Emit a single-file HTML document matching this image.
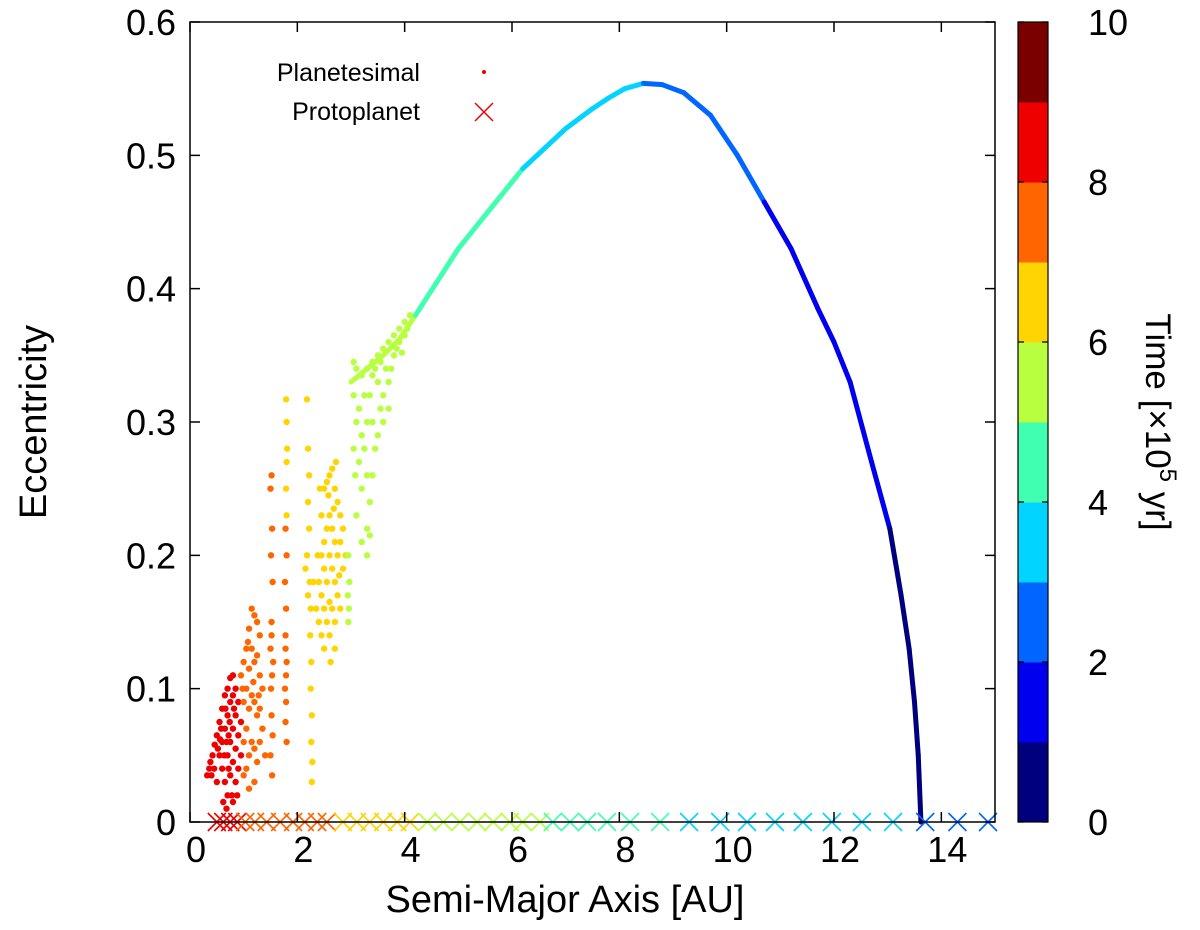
<!DOCTYPE html>
<html><head><meta charset="utf-8"><style>
html,body{margin:0;padding:0;background:#fff;}
svg{display:block;font-family:"Liberation Sans",Arial,sans-serif;}
</style></head><body>
<svg id="chart" width="1200" height="930" viewBox="0 0 1200 930">
<g id="marks"></g>
<g id="axes"></g>
<g id="cbar"></g>
<g>
  <text x="420" y="81" font-size="25" text-anchor="end">Planetesimal</text>
  <circle cx="484" cy="72" r="2" fill="#ee0000"></circle>
  <text x="420" y="120" font-size="25" text-anchor="end">Protoplanet</text>
  <path d="M475 103 L493 121 M493 103 L475 121" stroke="#ee0000" stroke-width="1.5"></path>
</g>
<text x="565" y="912" font-size="38" text-anchor="middle">Semi-Major Axis [AU]</text>
<text transform="translate(46,422) rotate(-90)" font-size="38" text-anchor="middle">Eccentricity</text>
<text transform="translate(1146,422) rotate(90)" font-size="35" text-anchor="middle">Time [×10<tspan font-size="24" dy="-14">5</tspan><tspan dy="14"> yr]</tspan></text>
</svg>
<script>
// ---- data ----
const arcPts = [[3.0,0.33],[3.3,0.34],[3.6,0.35],[3.9,0.362],[4.2,0.38],[4.6,0.405],[5.0,0.43],[5.5,0.455],[6.0,0.48],[6.2,0.49],[6.6,0.505],[7.0,0.52],[7.5,0.535],[7.8,0.543],[8.1,0.55],[8.45,0.554],[8.8,0.553],[9.2,0.547],[9.7,0.53],[10.2,0.5],[10.7,0.465],[11.2,0.43],[11.7,0.385],[12.0,0.36],[12.3,0.33],[12.7,0.27],[13.04,0.22],[13.25,0.17],[13.4,0.13],[13.5,0.09],[13.57,0.05],[13.62,0.0]];
const arcTimes = [5.7,5.6,5.5,5.3,5.0,4.8,4.6,4.4,4.1,3.9,3.7,3.5,3.3,3.2,3.05,2.95,2.8,2.6,2.4,2.2,1.95,1.8,1.6,1.5,1.4,1.2,1.0,0.85,0.7,0.55,0.4,0.2];
const redPts = [[0.32,0.035],[0.38,0.045],[0.42,0.05],[0.46,0.058],[0.5,0.065],[0.55,0.075],[0.6,0.085],[0.65,0.095],[0.7,0.1],[0.75,0.108],[0.8,0.11],[0.45,0.04],[0.5,0.03],[0.55,0.05],[0.6,0.06],[0.6,0.04],[0.65,0.07],[0.65,0.03],[0.7,0.08],[0.7,0.05],[0.7,0.02],[0.75,0.09],[0.75,0.06],[0.75,0.035],[0.8,0.095],[0.8,0.07],[0.8,0.045],[0.8,0.015],[0.85,0.1],[0.85,0.08],[0.85,0.055],[0.85,0.03],[0.9,0.09],[0.9,0.065],[0.9,0.04],[0.62,0.015],[0.68,0.01],[0.72,0.065],[0.58,0.07],[0.52,0.055],[0.66,0.085],[0.78,0.02],[0.88,0.02],[0.95,0.075],[0.95,0.05],[0.36,0.04],[0.4,0.035],[0.56,0.062],[0.64,0.05],[0.74,0.075],[0.82,0.085],[0.68,0.06],[0.72,0.04]];
const orangePts = [[0.95,0.11],[1.0,0.12],[1.05,0.13],[1.1,0.145],[1.15,0.16],[1.2,0.155],[1.25,0.15],[1.3,0.14],[1.0,0.09],[1.05,0.1],[1.1,0.115],[1.15,0.13],[1.2,0.12],[1.25,0.125],[1.3,0.11],[1.35,0.1],[1.0,0.06],[1.05,0.07],[1.1,0.085],[1.15,0.095],[1.2,0.09],[1.25,0.08],[1.3,0.085],[1.35,0.07],[1.05,0.04],[1.1,0.05],[1.15,0.06],[1.2,0.055],[1.25,0.045],[1.3,0.06],[1.1,0.025],[1.2,0.03],[1.4,0.05],[1.0,0.035],[0.98,0.1],[1.08,0.135],[1.18,0.105],[1.28,0.095],[1.52,0.26],[1.5,0.25],[1.53,0.22],[1.51,0.2],[1.54,0.18],[1.52,0.15],[1.5,0.13],[1.53,0.11],[1.51,0.1],[1.52,0.08],[1.54,0.065],[1.5,0.05],[1.53,0.035],[1.52,0.14],[1.55,0.12],[1.78,0.22],[1.8,0.2],[1.77,0.18],[1.79,0.16],[1.78,0.14],[1.8,0.12],[1.77,0.1],[1.79,0.09],[1.78,0.075],[1.8,0.06],[1.78,0.13],[1.79,0.11]];
const yellowPts = [[1.79,0.317],[1.8,0.3],[1.81,0.28],[1.8,0.27],[1.79,0.25],[1.8,0.23],[2.18,0.317],[2.2,0.28],[2.22,0.26],[2.2,0.24],[2.22,0.22],[2.18,0.2],[2.23,0.18],[2.25,0.16],[2.24,0.14],[2.26,0.12],[2.25,0.1],[2.27,0.08],[2.26,0.06],[2.28,0.045],[2.27,0.03],[2.2,0.17],[2.15,0.19],[2.45,0.23],[2.5,0.25],[2.55,0.255],[2.6,0.26],[2.65,0.265],[2.7,0.25],[2.75,0.24],[2.8,0.23],[2.45,0.2],[2.5,0.21],[2.55,0.22],[2.6,0.23],[2.65,0.22],[2.7,0.21],[2.75,0.2],[2.8,0.21],[2.85,0.19],[2.4,0.18],[2.45,0.17],[2.5,0.19],[2.55,0.18],[2.6,0.2],[2.65,0.19],[2.7,0.18],[2.75,0.17],[2.8,0.16],[2.4,0.15],[2.45,0.14],[2.5,0.16],[2.55,0.15],[2.6,0.165],[2.65,0.16],[2.7,0.15],[2.5,0.13],[2.6,0.14],[2.35,0.16],[2.38,0.2],[2.58,0.245],[2.68,0.235],[2.78,0.185],[2.85,0.22],[2.9,0.2],[2.62,0.12],[2.3,0.18],[2.42,0.25],[2.72,0.27],[2.7,0.13]];
const greenPts = [[2.95,0.2],[2.97,0.18],[2.96,0.16],[2.95,0.15],[2.94,0.17],[3.05,0.345],[3.1,0.34],[3.2,0.335],[3.3,0.34],[3.4,0.345],[3.5,0.35],[3.6,0.355],[3.7,0.36],[3.8,0.365],[3.9,0.37],[4.0,0.375],[4.1,0.38],[3.05,0.32],[3.1,0.3],[3.05,0.28],[3.08,0.26],[3.15,0.31],[3.2,0.29],[3.15,0.27],[3.2,0.25],[3.25,0.32],[3.3,0.3],[3.25,0.28],[3.3,0.26],[3.35,0.24],[3.3,0.22],[3.35,0.32],[3.4,0.3],[3.45,0.28],[3.4,0.26],[3.5,0.33],[3.55,0.31],[3.5,0.29],[3.6,0.32],[3.65,0.34],[3.7,0.33],[3.75,0.34],[3.8,0.35],[3.85,0.355],[3.9,0.36],[4.0,0.365],[3.7,0.31],[3.6,0.3],[3.45,0.34],[3.1,0.23],[3.2,0.21],[3.3,0.2],[3.35,0.215],[3.4,0.335],[3.55,0.345],[3.95,0.352],[4.05,0.37]];
const groupTimes = [8.5,7.5,6.5,5.5];
const crossA = [0.5,0.62,0.75,0.88,1.03,1.21,1.43,1.68,1.92,2.14,2.37,2.55,2.85,3.11,3.35,3.6,3.86,4.1,4.42,4.72,5.03,5.35,5.65,5.96,6.2,6.52,6.76,7.08,7.4,7.77,8.2,8.76,9.3,9.88,10.38,10.9,11.42,11.96,12.52,13.1,13.7,14.3,14.87];
const crossT = [8.6,8.5,8.4,8.2,7.9,7.8,7.6,7.5,7.4,7.3,7.2,7.1,6.9,6.8,6.6,6.5,6.3,6.1,5.9,5.7,5.6,5.5,5.4,5.3,5.2,5.1,4.9,4.7,4.6,4.4,4.2,4.0,3.8,3.7,3.6,3.5,3.4,3.3,3.2,3.1,2.9,2.8,2.7];
const xTicks = [0,2,4,6,8,10,12,14];
const yTicks = [0,0.1,0.2,0.3,0.4,0.5,0.6];
const yTickLabels = ["0","0.1","0.2","0.3","0.4","0.5","0.6"];
const cTicks = [0,2,4,6,8,10];
const bandColors = ["#00007e","#0000ee","#0066ff","#00d4ff","#40ffb0","#b8ff40","#ffd400","#ff6600","#ee0000","#7a0000"];

// ---- scales ----
const X0=190,X1=995,Y0=822,Y1=22;
const sx=a=>X0+(a/15)*(X1-X0);
const sy=e=>Y0-(e/0.6)*(Y0-Y1);
const CB0=1018,CB1=1048;
const sc=t=>Y0-(t/10)*(Y0-Y1);
const col=t=>bandColors[Math.max(0,Math.min(9,Math.floor(t)))];
const NS='http://www.w3.org/2000/svg';
function mk(tag,attrs,parent){const el=document.createElementNS(NS,tag);for(const k in attrs)el.setAttribute(k,attrs[k]);parent.appendChild(el);return el;}

const marks=document.getElementById('marks');
for(let i=0;i<arcPts.length-1;i++){
  const p=arcPts[i],q=arcPts[i+1];
  const s=mk('line',{x1:sx(p[0]),y1:sy(p[1]),x2:sx(q[0]),y2:sy(q[1]),stroke:col((arcTimes[i]+arcTimes[i+1])/2),'stroke-width':5,'stroke-linecap':'round'},marks);
  
  
}
[redPts,orangePts,yellowPts,greenPts].forEach((g,gi)=>{
  g.forEach(p=>{
    const c=mk('circle',{cx:sx(p[0]),cy:sy(p[1]),r:3.2,fill:col(groupTimes[gi])},marks);
    
    
  });
});
crossA.forEach((a,i)=>{
  const x=sx(a),y=sy(0),h=9;
  const c=mk('path',{d:`M${x-h} ${y-h} L${x+h} ${y+h} M${x+h} ${y-h} L${x-h} ${y+h}`,stroke:col(crossT[i]),'stroke-width':1.6,fill:'none'},marks);
  
  
});

const axes=document.getElementById('axes');
const fr=mk('rect',{x:X0,y:Y1,width:X1-X0,height:Y0-Y1,fill:'none',stroke:'#000','stroke-width':1.5},axes);


xTicks.forEach(v=>{
  const x=sx(v);
  const t=mk('path',{d:`M${x} ${Y0} L${x} ${Y0-10} M${x} ${Y1} L${x} ${Y1+10}`,stroke:'#000','stroke-width':1.5},axes);
  
  
  const l=mk('text',{x:x+6,y:862,'font-size':36,'text-anchor':'middle'},axes);
  l.textContent=String(v);
  
  
});
yTicks.forEach((v,i)=>{
  const y=sy(v);
  const t=mk('path',{d:`M${X0} ${y} L${X0+10} ${y} M${X1} ${y} L${X1-10} ${y}`,stroke:'#000','stroke-width':1.5},axes);
  
  
  const l=mk('text',{x:176,y:y+13,'font-size':36,'text-anchor':'end'},axes);
  l.textContent=yTickLabels[i];
  
  
});

const cb=document.getElementById('cbar');
bandColors.forEach((c,i)=>{
  const r=mk('rect',{x:CB0,y:sc(i+1),width:CB1-CB0,height:sc(i)-sc(i+1)+0.5,fill:c},cb);
  
  
});
const cbf=mk('rect',{x:CB0,y:Y1,width:CB1-CB0,height:Y0-Y1,fill:'none',stroke:'#000','stroke-width':1.2},cb);


cTicks.forEach(v=>{
  const y=sc(v);
  const t=mk('path',{d:`M${CB0} ${y} L${CB0+6} ${y} M${CB1} ${y} L${CB1-6} ${y}`,stroke:'#000','stroke-width':1.2},cb);
  
  
  const l=mk('text',{x:1088,y:y+13,'font-size':36},cb);
  l.textContent=String(v);
  
  
});
</script>
</body></html>
